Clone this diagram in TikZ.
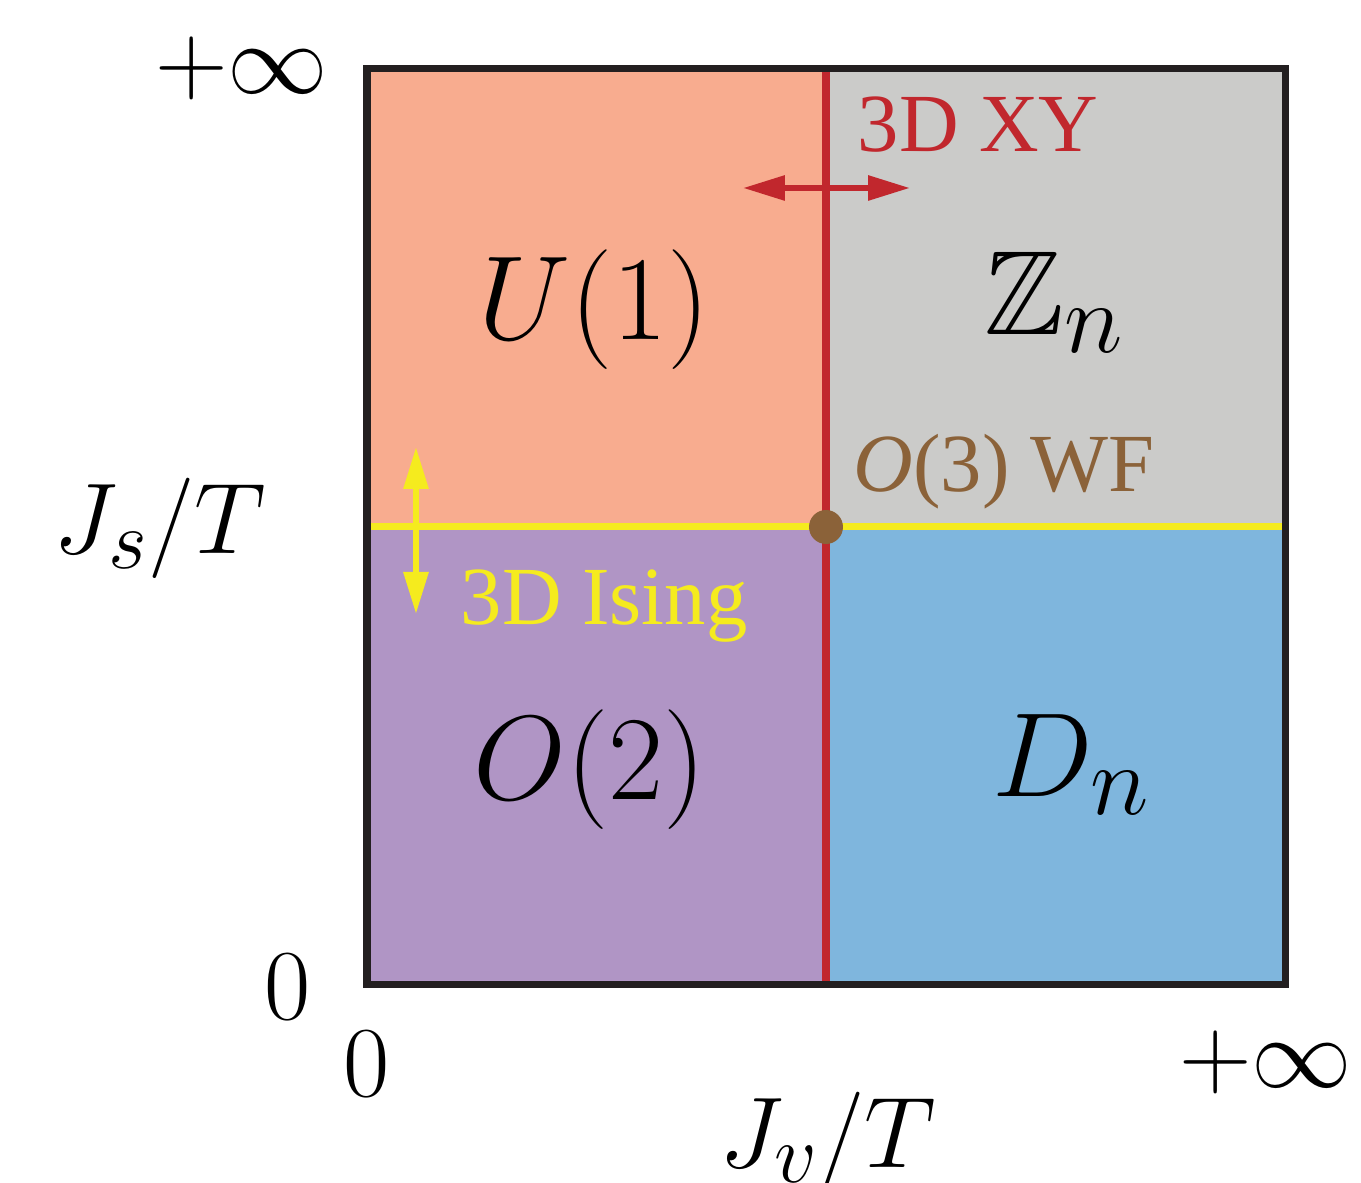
\documentclass[tikz,border=0pt]{standalone}
\usepackage{amsmath, amssymb}
\usepackage{fontspec}
\newfontfamily\labelfont{Liberation Serif}
\usetikzlibrary{arrows.meta}
\definecolor{salmon}{HTML}{F8AC8F}
\definecolor{greyreg}{HTML}{CBCBC9}
\definecolor{purplereg}{HTML}{B095C5}
\definecolor{bluereg}{HTML}{7FB6DD}
\definecolor{xyred}{HTML}{C1272D}
\definecolor{isingyellow}{HTML}{F5EB1E}
\definecolor{wfbrown}{HTML}{8B6239}
\definecolor{frame}{HTML}{231F20}

\begin{document}
\begin{tikzpicture}[>={Triangle[length=4.2mm,width=2.4mm]},
  every node/.style={inner sep=0pt},
  phase/.style={anchor=base, font=\Huge, scale=1.37},
  axis/.style={font=\Huge, scale=1.15},
  crit/.style={anchor=base west, font=\fontsize{23.5}{28}\selectfont\labelfont}]
  \useasboundingbox (0,0) rectangle (13.61,11.83);
  \coordinate (sw) at (3.67,1.98);
  \coordinate (ne) at (12.85,11.14);
  \coordinate (c) at (8.26,6.56);
  % the four phases
  \fill[salmon] (sw |- c) rectangle (c |- ne);
  \fill[greyreg] (c) rectangle (ne);
  \fill[purplereg] (sw) rectangle (c);
  \fill[bluereg] (c |- sw) rectangle (ne |- c);
  % transition lines
  \draw[xyred, line width=0.075cm] (c |- sw) -- (c |- ne);
  \draw[isingyellow, line width=0.07cm] (sw |- c) -- (ne |- c);
  \coordinate (xyl) at (7.43,9.95);
  \coordinate (xyr) at (9.10,9.95);
  \coordinate (isu) at (4.16,7.36);
  \coordinate (isd) at (4.16,5.69);
  \draw[<->, xyred, line width=0.06cm] (xyl) -- (xyr);
  \draw[<->, isingyellow, line width=0.06cm] (isu) -- (isd);
  \fill[wfbrown] (c) circle (0.17);
  \draw[frame, line width=0.07cm] (sw) rectangle (ne);
  % phase labels
  \node[phase] (u1) at (5.94,8.43) {$U(1)$};
  \node[phase] (zn) at (10.55,8.48) {$\mathbb{Z}_n$};
  \node[phase] (o2) at (5.90,3.83) {$O(2)$};
  \node[phase] (dn) at (10.72,3.86) {$D_n$};
  % critical lines
  \node[crit, text=xyred] (xy) at (8.57,10.31) {3D XY};
  \node[crit, text=isingyellow] (ising) at (4.60,5.58) {3D Ising};
  \node[crit, text=wfbrown] (wf) at (8.53,6.91) {\itshape O\upshape(3) WF};
  % axes
  \node[axis] (ytop) at (2.42,11.15) {$+\infty$};
  \node[axis] (yzero) at (2.88,1.96) {$0$};
  \node[axis] (ylab) at (1.60,6.55) {$J_s/T$};
  \node[axis] (xzero) at (3.67,1.19) {$0$};
  \node[axis] (xtop) at (12.66,1.21) {$+\infty$};
  \node[axis] (xlab) at (8.28,0.41) {$J_v/T$};
\end{tikzpicture}
\end{document}
